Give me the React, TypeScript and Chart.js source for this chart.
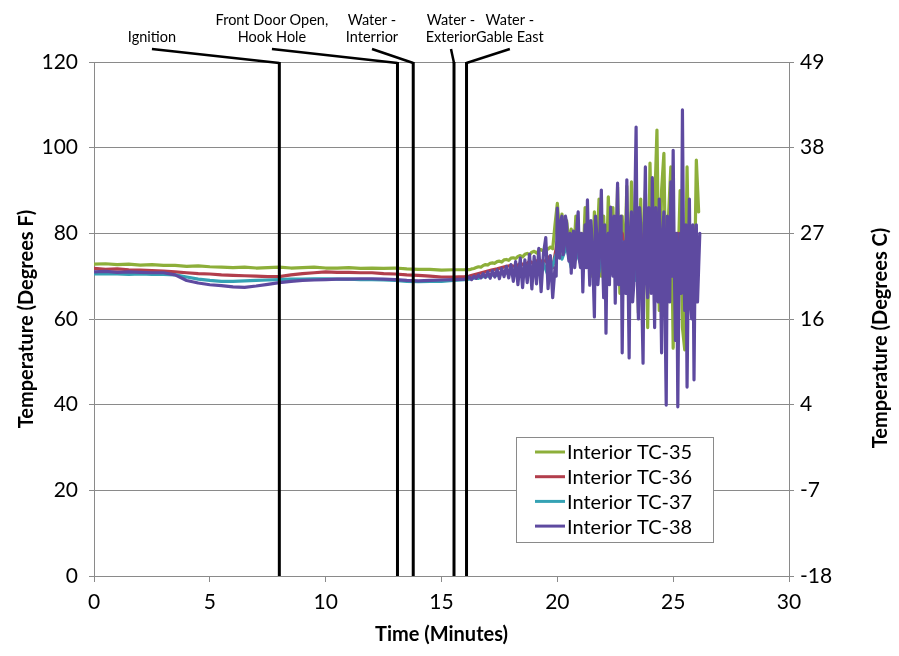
import React, { useEffect, useRef } from "react";
import { Chart, registerables } from "chart.js";

Chart.register(...registerables);

// ---------- data ----------
const earlyTimes = [0, 0.5, 1, 1.5, 2, 2.5, 3, 3.5, 4, 4.5, 5, 5.5, 6, 6.5, 7, 7.5, 8, 8.5, 9, 9.5, 10, 10.5, 11, 11.5, 12, 12.5, 13, 13.5, 14, 14.5, 15, 15.5, 16];

const midTimes = [16.1, 16.2, 16.3, 16.4, 16.5, 16.6, 16.7, 16.8, 16.9, 17.0, 17.1, 17.2, 17.3, 17.4, 17.5, 17.6, 17.7, 17.8, 17.9, 18.0, 18.1, 18.2, 18.3, 18.4, 18.5, 18.6, 18.7, 18.8, 18.9, 19.0, 19.1, 19.2, 19.3, 19.4, 19.5, 19.6, 19.7, 19.8, 19.9];

const noisyTimes = [20.0, 20.1, 20.2, 20.3, 20.4, 20.5, 20.6, 20.7, 20.8, 20.9, 21.0, 21.1, 21.2, 21.3, 21.4, 21.5, 21.6, 21.7, 21.8, 21.9, 22.0, 22.1, 22.2, 22.3, 22.4, 22.5, 22.6, 22.7, 22.8, 22.9, 23.0, 23.1, 23.2, 23.3, 23.4, 23.5, 23.6, 23.7, 23.8, 23.9, 24.0, 24.1, 24.2, 24.3, 24.4, 24.5, 24.6, 24.7, 24.8, 24.9, 25.0, 25.1, 25.2, 25.3, 25.4, 25.5, 25.6, 25.7, 25.8, 25.9, 26.0, 26.1];

const noisyTimesFine = [19.95, 20, 20.05, 20.1, 20.15, 20.2, 20.25, 20.3, 20.35, 20.4, 20.45, 20.5, 20.55, 20.6, 20.65, 20.7, 20.75, 20.8, 20.85, 20.9, 20.95, 21, 21.05, 21.1, 21.15, 21.2, 21.25, 21.3, 21.35, 21.4, 21.45, 21.5, 21.55, 21.6, 21.65, 21.7, 21.75, 21.8, 21.85, 21.9, 21.95, 22, 22.05, 22.1, 22.15, 22.2, 22.25, 22.3, 22.35, 22.4, 22.45, 22.5, 22.55, 22.6, 22.65, 22.7, 22.75, 22.8, 22.85, 22.9, 22.95, 23, 23.05, 23.1, 23.15, 23.2, 23.25, 23.3, 23.35, 23.4, 23.45, 23.5, 23.55, 23.6, 23.65, 23.7, 23.75, 23.8, 23.85, 23.9, 23.95, 24, 24.05, 24.1, 24.15, 24.2, 24.25, 24.3, 24.35, 24.4, 24.45, 24.5, 24.55, 24.6, 24.65, 24.7, 24.75, 24.8, 24.85, 24.9, 24.95, 25, 25.05, 25.1, 25.15, 25.2, 25.25, 25.3, 25.35, 25.4, 25.45, 25.5, 25.55, 25.6, 25.65, 25.7, 25.75, 25.8, 25.85, 25.9, 25.95, 26, 26.05, 26.1, 26.15];

const lateTimesCoarse = [16.2, 16.4, 16.6, 16.8, 17.0, 17.2, 17.4, 17.6, 17.8, 18.0, 18.2, 18.4, 18.6, 18.8, 19.0, 19.2, 19.4, 19.6, 19.8, 20.0, 20.2, 20.4, 20.6, 20.8, 21.0, 21.2, 21.4, 21.6, 21.8, 22.0, 22.2, 22.4, 22.6, 22.8, 23.0, 23.2, 23.4, 23.6, 23.8, 24.0, 24.2, 24.4, 24.6, 24.8, 25.0, 25.2, 25.4, 25.6, 25.8, 26.0];

const tc35Early = [72.8, 72.9, 72.7, 72.8, 72.6, 72.7, 72.5, 72.5, 72.3, 72.4, 72.2, 72.1, 72.0, 72.1, 71.9, 72.0, 72.1, 71.9, 72.0, 72.1, 71.9, 71.9, 72.0, 71.8, 71.9, 71.8, 71.9, 71.7, 71.6, 71.6, 71.4, 71.5, 71.5];
const tc36Early = [71.8, 71.6, 71.7, 71.5, 71.4, 71.3, 71.2, 71.0, 70.8, 70.6, 70.5, 70.3, 70.2, 70.1, 70.0, 69.9, 69.9, 70.3, 70.6, 70.8, 71.0, 70.9, 70.9, 70.8, 70.8, 70.6, 70.5, 70.3, 70.2, 70.0, 69.8, 69.8, 69.9];
const tc37Early = [70.5, 70.6, 70.5, 70.4, 70.5, 70.4, 70.4, 70.3, 69.8, 69.3, 69.0, 68.8, 68.8, 68.9, 69.0, 69.1, 69.2, 69.3, 69.3, 69.4, 69.4, 69.3, 69.3, 69.2, 69.2, 69.1, 69.0, 68.8, 68.7, 68.8, 68.8, 69.0, 69.2];
const tc38Early = [71.0, 71.1, 70.9, 71.0, 70.9, 70.8, 70.8, 70.3, 69.0, 68.4, 68.0, 67.8, 67.5, 67.4, 67.7, 68.1, 68.5, 68.8, 69.0, 69.1, 69.2, 69.3, 69.3, 69.4, 69.4, 69.3, 69.2, 69.0, 68.9, 69.0, 69.1, 69.2, 69.3];

const tc35Mid = [71.6, 71.5, 71.7, 71.8, 72.0, 72.2, 72.1, 72.5, 72.7, 72.6, 73.0, 73.1, 73.0, 73.4, 73.5, 73.3, 73.8, 73.9, 73.7, 74.2, 74.3, 74.1, 74.6, 74.8, 74.5, 75.1, 75.3, 75.0, 75.6, 75.8, 75.4, 76.0, 76.2, 75.8, 76.5, 76.3, 76.8, 76.4, 82.0];
const tc35Noisy = [87.0, 80.0, 84.5, 76.0, 83.0, 78.0, 81.0, 74.0, 84.0, 77.0, 80.0, 72.0, 86.0, 78.0, 82.0, 70.0, 85.0, 75.0, 88.0, 70.0, 84.0, 68.0, 88.5, 74.0, 86.0, 70.0, 90.8, 66.0, 84.0, 72.0, 91.0, 62.0, 92.0, 70.0, 92.9, 61.4, 88.0, 68.0, 90.0, 58.0, 96.4, 70.0, 86.0, 104.1, 62.0, 90.0, 98.7, 60.0, 84.0, 95.5, 53.2, 80.0, 70.0, 90.0, 58.0, 52.8, 95.5, 64.0, 78.0, 60.0, 97.1, 85.0];

const tc38Mid = [69.4, 69.8, 69.2, 70.0, 69.5, 70.3, 69.6, 70.6, 69.7, 71.0, 69.5, 71.3, 69.8, 71.5, 69.4, 71.8, 69.9, 72.3, 69.6, 72.7, 68.8, 73.4, 68.0, 74.2, 67.3, 73.8, 68.5, 75.1, 67.0, 74.6, 68.2, 76.5, 66.4, 75.2, 79.0, 67.1, 74.8, 65.0, 72.0];
const tc38Noisy = [70, 85.9, 76, 74.2, 83, 84.0, 75, 77.0, 84, 82.4, 76, 73.5, 80, 70.7, 78, 80.5, 72, 75.0, 82, 85.0, 74, 72.0, 80, 66.3, 76, 82.0, 72, 87.8, 76, 67.9, 83, 78.0, 70, 60.5, 84, 80.0, 68, 72.0, 82, 90.1, 74, 65.0, 82, 56.7, 78, 80.0, 68, 86.1, 74, 70.0, 84, 63.7, 78, 91.7, 68, 75.0, 84, 52.1, 76, 78.0, 66, 92.5, 72, 50.9, 80, 85.0, 64, 68.0, 88, 104.8, 70, 60.0, 86, 82.0, 64, 49.7, 80, 95.5, 70, 65.0, 86, 80.0, 66, 93.0, 72, 58.0, 86, 75.0, 64, 88.0, 72, 52.1, 80, 85.0, 62, 39.9, 84, 78.0, 64, 92.0, 70, 99.4, 72, 55.0, 80, 39.5, 70, 80.0, 66, 108.8, 74, 62.0, 82, 44.1, 70, 88.0, 64, 60.0, 82, 45.8, 76, 82.0, 64, 72.0, 80];

const tc36Late = [70.0, 70.3, 70.6, 70.9, 71.2, 71.5, 71.7, 72.0, 72.3, 72.5, 72.2, 73.0, 72.5, 73.5, 72.8, 74.0, 73.0, 74.5, 72.0, 78.0, 76.0, 79.0, 74.0, 78.0, 75.0, 79.0, 73.0, 77.0, 72.0, 79.0, 73.0, 78.0, 72.0, 80.0, 71.0, 79.0, 70.0, 80.0, 72.0, 78.0, 70.0, 80.0, 71.0, 78.0, 72.0, 80.0, 73.0, 76.0, 75.0, 77.0];
const tc37Late = [69.3, 69.6, 69.5, 69.9, 70.0, 70.3, 70.2, 70.6, 70.8, 70.7, 71.2, 70.5, 71.8, 70.6, 72.3, 70.4, 73.0, 70.2, 72.5, 76.0, 74.0, 77.0, 72.0, 76.0, 73.0, 77.0, 72.0, 75.0, 71.0, 77.0, 72.0, 76.0, 71.0, 78.0, 70.0, 77.0, 69.0, 78.0, 71.0, 76.0, 69.0, 78.0, 70.0, 76.0, 71.0, 78.0, 72.0, 75.0, 74.0, 75.0];

const seriesNames = ["Interior TC-35", "Interior TC-36", "Interior TC-37", "Interior TC-38"];
const seriesColors = ["#8DAF3A", "#B23E4C", "#35A2B4", "#5E4AA0"];

const xTickValues = [0, 5, 10, 15, 20, 25, 30];
const yTickStep = 20;

const eventTimes = [8.0, 13.1, 13.78, 15.54, 16.08];
const eventLabelTimes = [2.5, 7.68, 12.0, 15.41, 17.95];
const eventLabels = [["Ignition"], ["Front Door Open,", "Hook Hole"], ["Water -", "Interrior"], ["Water -", "Exterior"], ["Water -", "Gable East"]];

const FONT = "Lato, 'Open Sans', sans-serif";
const GRID = "#8a8a8a";

const pts = (ts: number[], vs: number[]) => ts.map((t, i) => ({ x: t, y: vs[i] }));

const overlayPlugin = {
  id: "overlay",
  afterDatasetsDraw(chart: any) {
    const { ctx, chartArea, scales } = chart;
    const xs = scales.x;
    const top = chartArea.top;
    ctx.save();
    ctx.strokeStyle = "#000";
    ctx.lineCap = "butt";
    eventTimes.forEach((t, i) => {
      const x = xs.getPixelForValue(t);
      ctx.lineWidth = 3;
      ctx.beginPath();
      ctx.moveTo(x, top);
      ctx.lineTo(x, chartArea.bottom);
      ctx.stroke();
      const lx = xs.getPixelForValue(eventLabelTimes[i]);
      ctx.lineWidth = 2.5;
      ctx.beginPath();
      ctx.moveTo(lx, top - 13);
      ctx.lineTo(x, top + 1);
      ctx.stroke();
      ctx.fillStyle = "#000";
      ctx.font = `14.5px ${FONT}`;
      ctx.textAlign = "center";
      ctx.textBaseline = "middle";
      const lines = eventLabels[i];
      lines.forEach((s, j) => {
        const y = top - 25 - (lines.length - 1 - j) * 17;
        ctx.fillText(s, lx, y);
      });
    });
    ctx.restore();
  },
  afterDraw(chart: any) {
    const { ctx, chartArea } = chart;
    ctx.save();
    ctx.fillStyle = "#000";
    ctx.font = `bold 20px ${FONT}`;
    ctx.textAlign = "center";
    ctx.textBaseline = "middle";
    ctx.fillText("Time (Minutes)", (chartArea.left + chartArea.right) / 2, chartArea.bottom + 59);
    ctx.save();
    ctx.translate(27, (chartArea.top + chartArea.bottom) / 2);
    ctx.rotate(-Math.PI / 2);
    ctx.fillText("Temperature (Degrees F)", 0, 0);
    ctx.restore();
    ctx.save();
    ctx.translate(chartArea.right + 92, (chartArea.top + chartArea.bottom) / 2 + 19);
    ctx.rotate(-Math.PI / 2);
    ctx.fillText("Temperature (Degrees C)", 0, 0);
    ctx.restore();

    // legend
    const bx = chartArea.right - 273;
    const by = chartArea.bottom - 139;
    const bw = 197;
    const bh = 105;
    ctx.fillStyle = "#fff";
    ctx.fillRect(bx, by, bw, bh);
    ctx.strokeStyle = GRID;
    ctx.lineWidth = 1;
    ctx.strokeRect(bx + 0.5, by + 0.5, bw, bh);
    ctx.font = `20px ${FONT}`;
    ctx.textAlign = "left";
    ctx.textBaseline = "middle";
    seriesNames.forEach((name, i) => {
      const y = by + 15 + i * 24.7;
      ctx.strokeStyle = seriesColors[i];
      ctx.lineWidth = 3;
      ctx.beginPath();
      ctx.moveTo(bx + 19, y);
      ctx.lineTo(bx + 49, y);
      ctx.stroke();
      ctx.fillStyle = "#000";
      ctx.fillText(name, bx + 51, y + 1);
    });
    ctx.restore();
  },
};

export default function App() {
  const ref = useRef<HTMLCanvasElement>(null);
  useEffect(() => {
    if (!ref.current) return;
    const tickFont = { family: FONT, size: 21 };
    const chart = new Chart(ref.current, {
      type: "line",
      data: {
        datasets: [
          {
            label: seriesNames[0],
            data: pts(earlyTimes, tc35Early).concat(pts(midTimes, tc35Mid), pts(noisyTimes, tc35Noisy)),
            borderColor: seriesColors[0],
            order: 3,
          },
          {
            label: seriesNames[1],
            data: pts(earlyTimes, tc36Early).concat(pts(lateTimesCoarse, tc36Late)),
            borderColor: seriesColors[1],
            order: 2,
          },
          {
            label: seriesNames[2],
            data: pts(earlyTimes, tc37Early).concat(pts(lateTimesCoarse, tc37Late)),
            borderColor: seriesColors[2],
            order: 1,
          },
          {
            label: seriesNames[3],
            data: pts(earlyTimes, tc38Early).concat(pts(midTimes, tc38Mid), pts(noisyTimesFine, tc38Noisy)),
            borderColor: seriesColors[3],
            order: 0,
          },
        ],
      },
      options: {
        animation: false,
        responsive: false,
        maintainAspectRatio: false,
        layout: { padding: { top: 62, left: 0, right: 0, bottom: 0 } },
        plugins: { legend: { display: false }, tooltip: { enabled: false } },
        elements: {
          point: { radius: 0 },
          line: { borderWidth: 3.2, tension: 0, borderJoinStyle: "round", borderCapStyle: "round" },
        },
        scales: {
          x: {
            type: "linear",
            min: 0,
            max: 30,
            afterBuildTicks: (s: any) => { s.ticks = xTickValues.map((v) => ({ value: v })); },
            ticks: { font: tickFont, color: "#000", padding: 8, maxRotation: 0 },
            grid: { drawOnChartArea: false, tickLength: 6, color: GRID },
            border: { color: GRID },
            afterFit: (s: any) => { s.height = 80; },
          },
          y: {
            position: "left",
            min: 0,
            max: 120,
            ticks: { stepSize: yTickStep, font: tickFont, color: "#000", padding: 11 },
            grid: { color: GRID, tickLength: 5 },
            border: { color: GRID },
            afterFit: (s: any) => { s.width = 94; },
          },
          y2: {
            position: "right",
            min: 0,
            max: 120,
            ticks: {
              stepSize: yTickStep,
              font: tickFont,
              color: "#000",
              padding: 6,
              callback: (v: any) => String(Math.round(((Number(v) - 32) * 5) / 9)),
            },
            grid: { drawOnChartArea: false, tickLength: 5, color: GRID },
            border: { color: GRID },
            afterFit: (s: any) => { s.width = 110; },
          },
        },
      },
      plugins: [overlayPlugin],
    } as any);
    return () => chart.destroy();
  }, []);
  return (
    <canvas
      ref={ref}
      width={899}
      height={656}
      style={{ position: "fixed", left: 0, top: 0, display: "block", background: "#fff" }}
    />
  );
}
